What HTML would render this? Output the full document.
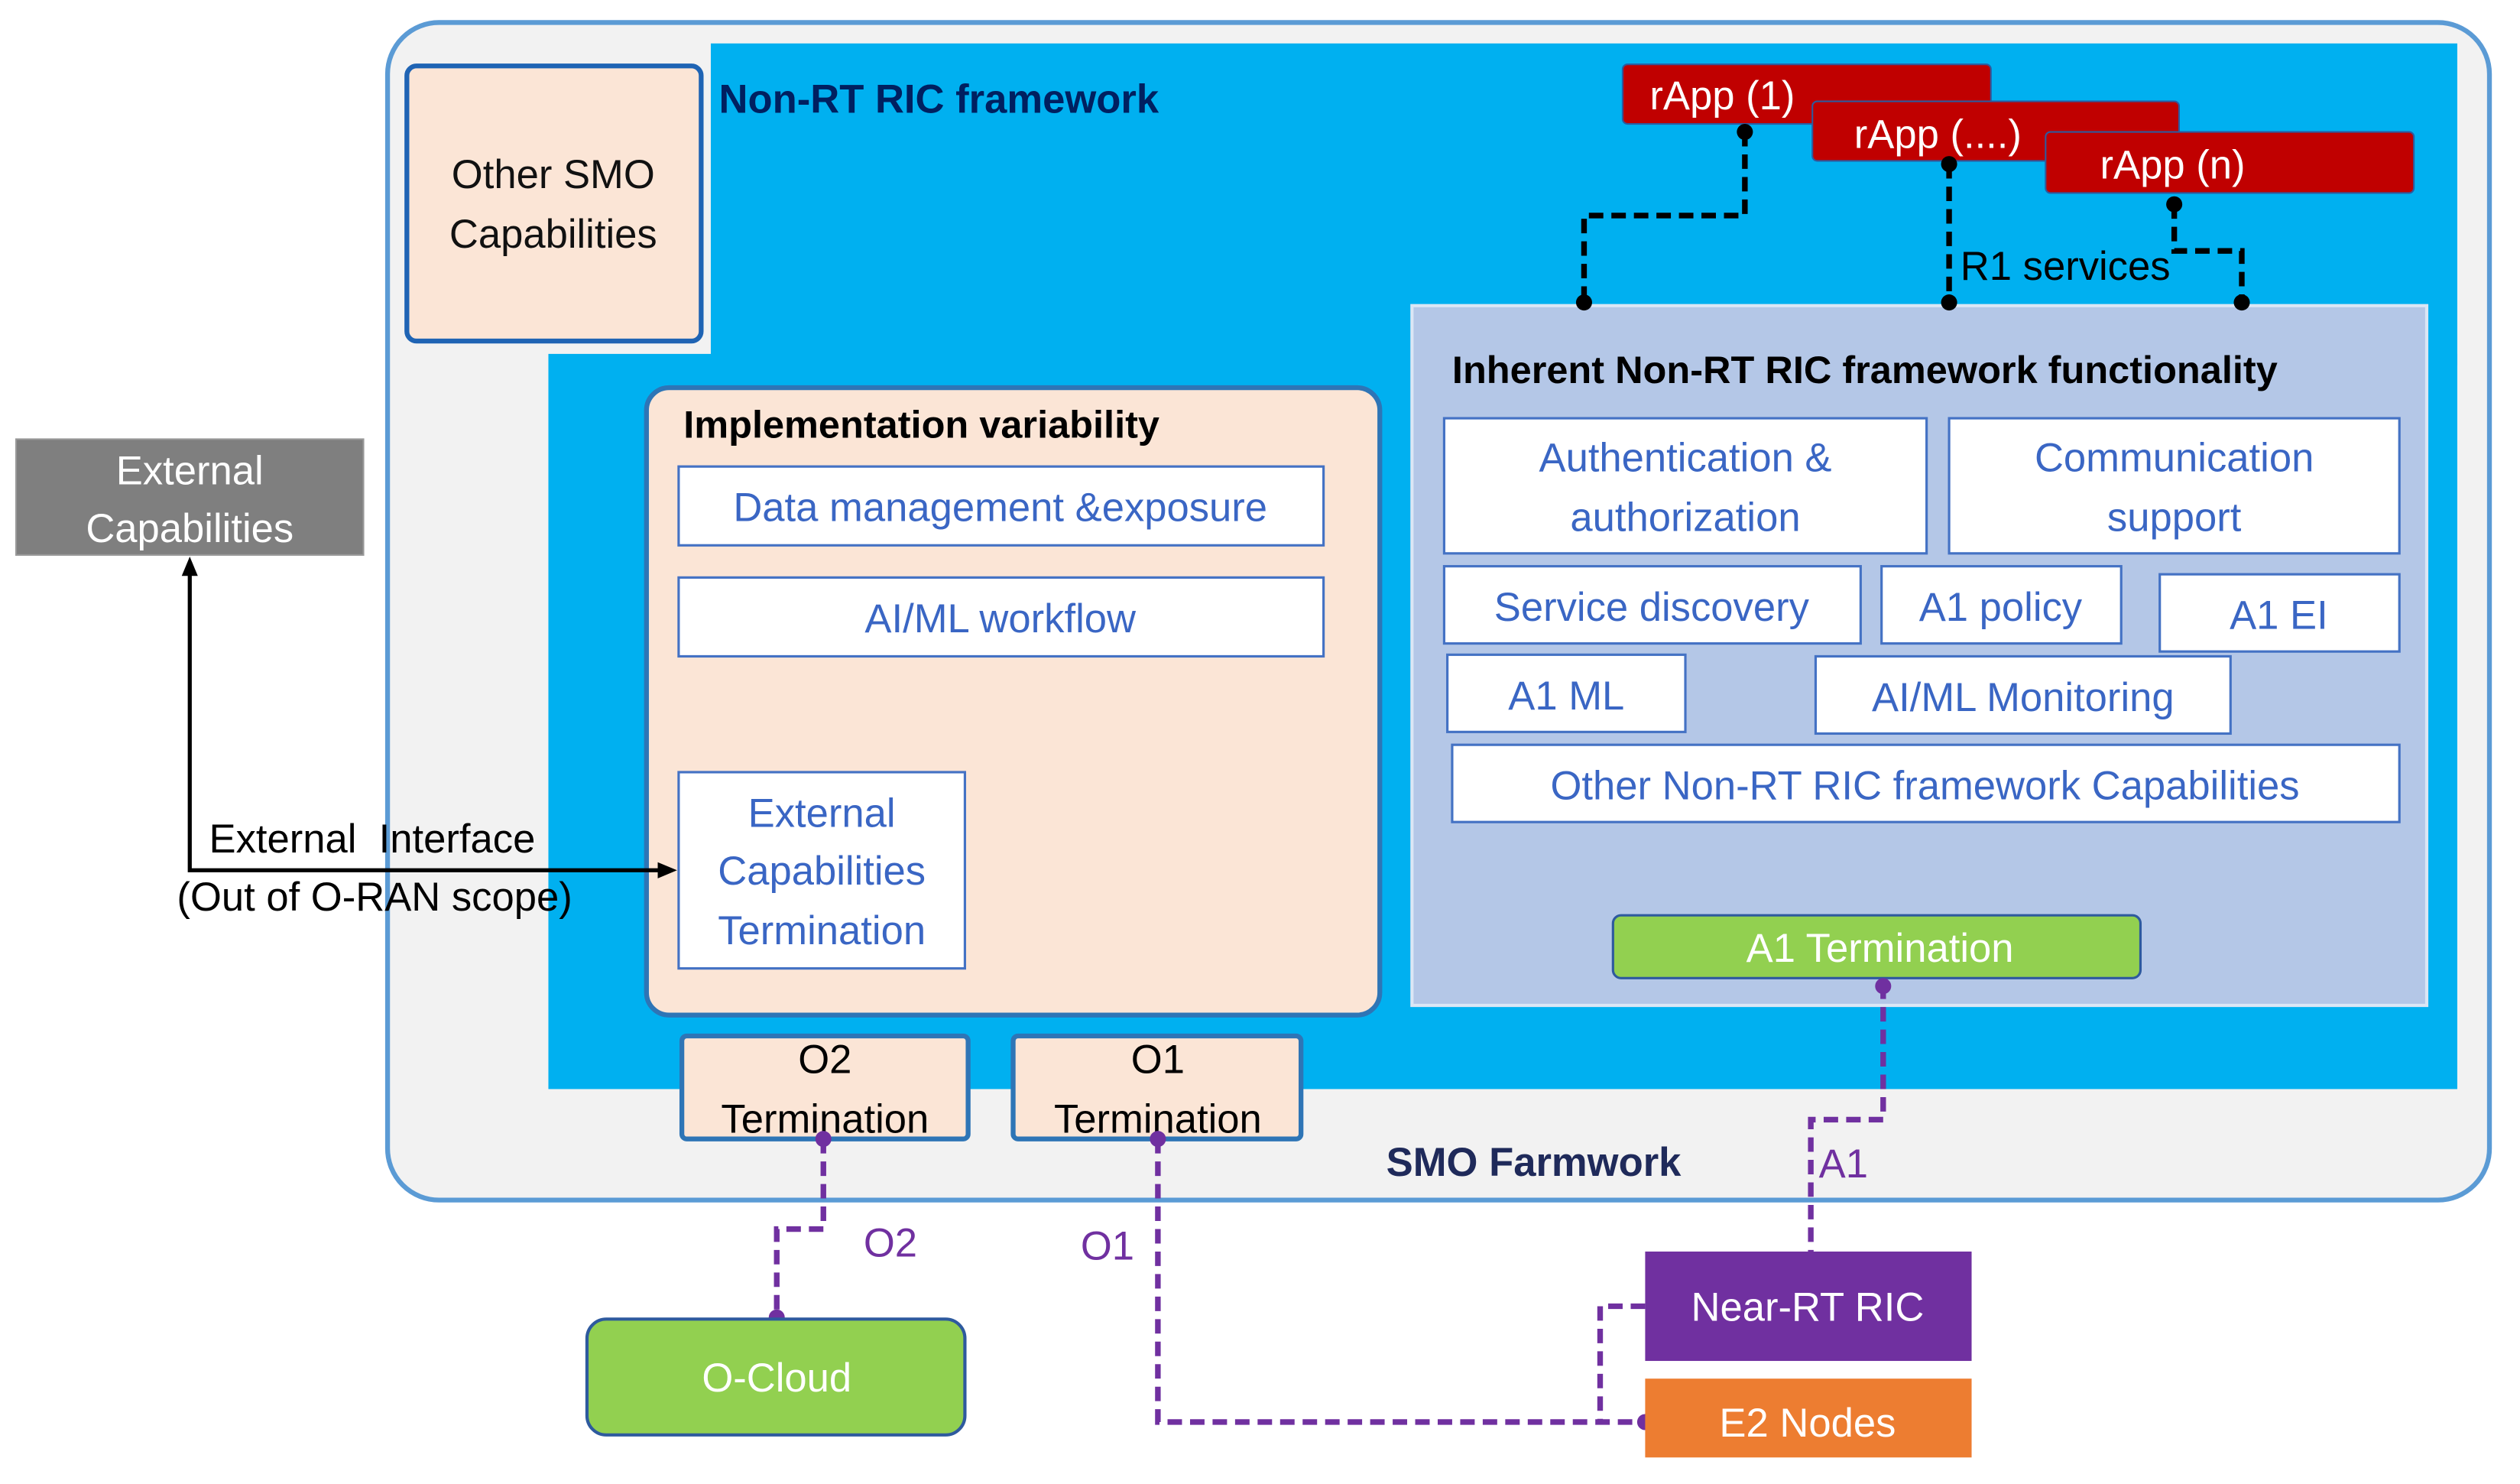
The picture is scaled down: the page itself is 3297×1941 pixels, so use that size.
<!DOCTYPE html>
<html><head><meta charset="utf-8"><style>
html,body{margin:0;padding:0;background:#fff;}
svg{display:block;}
text{font-family:"Liberation Sans",sans-serif;}
</style></head><body>
<svg width="3297" height="1941" viewBox="0 0 1567 922.5" preserveAspectRatio="none" xmlns="http://www.w3.org/2000/svg">
<!-- SMO framework -->
<rect x="241" y="14" width="1307" height="732" rx="32" fill="#f2f2f2" stroke="#5b9bd5" stroke-width="3"/>
<!-- Non-RT RIC blue -->
<rect x="442" y="27" width="1086" height="200" fill="#00b0f0"/>
<rect x="341" y="220" width="1187" height="457" fill="#00b0f0"/>
<text x="447" y="70" font-size="25" font-weight="bold" fill="#002060">Non-RT RIC framework</text>
<!-- Other SMO -->
<rect x="253" y="41" width="183" height="171" rx="6" fill="#fbe5d6" stroke="#1f64b4" stroke-width="3"/>
<text x="344" y="117" font-size="25" text-anchor="middle" fill="#111">Other SMO</text>
<text x="344" y="154" font-size="25" text-anchor="middle" fill="#111">Capabilities</text>
<!-- Implementation variability -->
<rect x="402" y="241" width="456" height="390" rx="14" fill="#fbe5d6" stroke="#2e75b6" stroke-width="3"/>
<text x="425" y="272" font-size="24" font-weight="bold" fill="#000">Implementation variability</text>
<g fill="#fff" stroke="#4472c4" stroke-width="1.5">
<rect x="422" y="290" width="401" height="49"/>
<rect x="422" y="359" width="401" height="49"/>
<rect x="422" y="480" width="178" height="122"/>
</g>
<g font-size="25" fill="#3a66c4" text-anchor="middle">
<text x="622" y="324">Data management &amp;exposure</text>
<text x="622" y="393">AI/ML workflow</text>
<text x="511" y="514">External</text>
<text x="511" y="550">Capabilities</text>
<text x="511" y="587">Termination</text>
</g>
<!-- O2/O1 terminations -->
<rect x="424" y="644" width="178" height="64" rx="3" fill="#fbe5d6" stroke="#2e75b6" stroke-width="3"/>
<rect x="630" y="644" width="179" height="64" rx="3" fill="#fbe5d6" stroke="#2e75b6" stroke-width="3"/>
<g font-size="25" fill="#000" text-anchor="middle">
<text x="513" y="667">O2</text><text x="513" y="704">Termination</text>
<text x="720" y="667">O1</text><text x="720" y="704">Termination</text>
</g>
<text x="862" y="731" font-size="25" font-weight="bold" fill="#1f2a5a">SMO Farmwork</text>
<!-- Inherent -->
<rect x="878" y="190" width="631" height="435" fill="#b4c7e7" stroke="#dbe6f5" stroke-width="2"/>
<text x="903" y="238" font-size="24" font-weight="bold" fill="#000">Inherent Non-RT RIC framework functionality</text>
<g fill="#fff" stroke="#4472c4" stroke-width="1.5">
<rect x="898" y="260" width="300" height="84"/>
<rect x="1212" y="260" width="280" height="84"/>
<rect x="898" y="352" width="259" height="48"/>
<rect x="1170" y="352" width="149" height="48"/>
<rect x="1343" y="357" width="149" height="48"/>
<rect x="900" y="407" width="148" height="48"/>
<rect x="1129" y="408" width="258" height="48"/>
<rect x="903" y="463" width="589" height="48"/>
</g>
<g font-size="25" fill="#3a66c4" text-anchor="middle">
<text x="1048" y="293">Authentication &amp;</text>
<text x="1048" y="330">authorization</text>
<text x="1352" y="293">Communication</text>
<text x="1352" y="330">support</text>
<text x="1027" y="386">Service discovery</text>
<text x="1244" y="386">A1 policy</text>
<text x="1417" y="391">A1 EI</text>
<text x="974" y="441">A1 ML</text>
<text x="1258" y="442">AI/ML Monitoring</text>
<text x="1197" y="497">Other Non-RT RIC framework Capabilities</text>
</g>
<rect x="1003" y="569" width="328" height="39" rx="5" fill="#92d050" stroke="#2e5a9e" stroke-width="1.5"/>
<text x="1169" y="598" font-size="25" fill="#fff" text-anchor="middle">A1 Termination</text>
<!-- rApps -->
<rect x="1009" y="40" width="229" height="37" rx="3" fill="#c00000" stroke="#2e5a9e" stroke-width="1"/>
<text x="1071" y="68" font-size="25" fill="#fff" text-anchor="middle">rApp (1)</text>
<rect x="1127" y="63" width="228" height="37" rx="3" fill="#c00000" stroke="#2e5a9e" stroke-width="1"/>
<text x="1205" y="92" font-size="25" fill="#fff" text-anchor="middle">rApp (....)</text>
<rect x="1272" y="82" width="229" height="38" rx="3" fill="#c00000" stroke="#2e5a9e" stroke-width="1"/>
<text x="1351" y="111" font-size="25" fill="#fff" text-anchor="middle">rApp (n)</text>
<!-- R1 dashed -->
<g fill="none" stroke="#000" stroke-width="3.5" stroke-dasharray="9,5">
<path d="M1085 82 V134 H985 V188"/>
<path d="M1212 102 V188"/>
<path d="M1352 127 V156 H1394 V188"/>
</g>
<g fill="#000">
<circle cx="1085" cy="82" r="5"/><circle cx="985" cy="188" r="5"/>
<circle cx="1212" cy="102" r="5"/><circle cx="1212" cy="188" r="5"/>
<circle cx="1352" cy="127" r="5"/><circle cx="1394" cy="188" r="5"/>
</g>
<text x="1219" y="174" font-size="25" fill="#000">R1 services</text>
<!-- External capabilities -->
<rect x="10" y="273" width="216" height="72" fill="#7f7f7f" stroke="#999" stroke-width="1"/>
<text x="118" y="301" font-size="25" fill="#fff" text-anchor="middle">External</text>
<text x="118" y="337" font-size="25" fill="#fff" text-anchor="middle">Capabilities</text>
<path d="M118 352 V541 H414" fill="none" stroke="#000" stroke-width="2.5"/>
<path d="M118 346 L113 358 L123 358 Z" fill="#000"/>
<path d="M421 541 L409 536 L409 546 Z" fill="#000"/>
<text x="130" y="530" font-size="25" fill="#000" xml:space="preserve">External  Interface</text>
<text x="110" y="566" font-size="25" fill="#000">(Out of O-RAN scope)</text>
<!-- purple dashed -->
<g fill="none" stroke="#7030a0" stroke-width="3.5" stroke-dasharray="9,5">
<path d="M512 708 V764 H483 V819"/>
<path d="M720 708 V884 H1023"/>
<path d="M1171 612 V696 H1126 V778"/>
<path d="M1023 812 H995 V884"/>
</g>
<g fill="#7030a0">
<circle cx="512" cy="708" r="5"/><circle cx="483" cy="819" r="5"/>
<circle cx="720" cy="708" r="5"/><circle cx="1023" cy="884" r="5"/>
<circle cx="1171" cy="613" r="5"/>
</g>
<g font-size="25" fill="#7030a0">
<text x="537" y="781">O2</text>
<text x="672" y="783">O1</text>
<text x="1131" y="732">A1</text>
</g>
<!-- bottom nodes -->
<rect x="365" y="820" width="235" height="72" rx="12" fill="#92d050" stroke="#2e5a9e" stroke-width="2"/>
<text x="483" y="865" font-size="25" fill="#fff" text-anchor="middle">O-Cloud</text>
<rect x="1023" y="778" width="203" height="68" fill="#7030a0"/>
<text x="1124" y="821" font-size="25" fill="#fff" text-anchor="middle">Near-RT RIC</text>
<rect x="1023" y="857" width="203" height="49" fill="#ed7d31"/>
<text x="1124" y="893" font-size="25" fill="#fff" text-anchor="middle">E2 Nodes</text>
</svg>
</body></html>
